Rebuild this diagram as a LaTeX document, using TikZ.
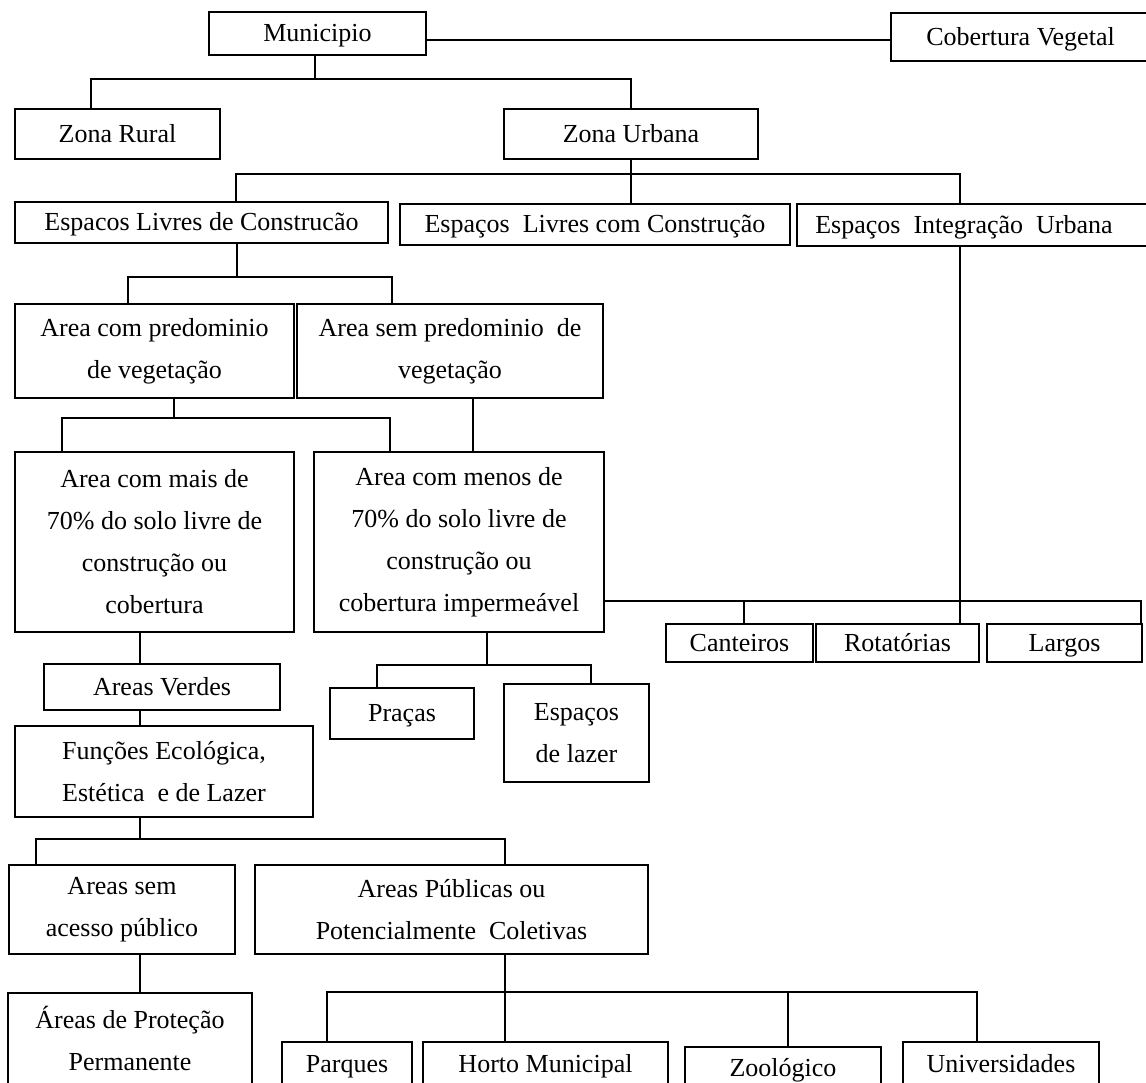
\documentclass[tikz,border=0pt]{standalone}
\usepackage{fontspec}
\setmainfont{Liberation Serif}
\tikzset{
  bx/.style={draw=black, line width=1.4pt, inner sep=0pt, align=center, text=black,
    font=\fontsize{26}{42}\selectfont},
  one/.style={text height=20pt, text depth=4pt},
  ln/.style={draw=black, line width=1.4pt}
}
\newcommand{\mkbox}[7][]{\node[bx,#1, minimum width={(#5-#3)*1pt}, minimum height={(#6-#4)*1pt}] (#2) at ({(#3+#5)/2},{(#4+#6)/2}) {#7};}
\begin{document}
\begin{tikzpicture}[x=1pt,y=-1pt]
\useasboundingbox (0,0) rectangle (1146,1082);
\fill[white] (0,0) rectangle (1146,1082);
\clip (0,0) rectangle (1146,1082);
% boxes
\mkbox[one]{mun}{209}{12}{426}{55}{Municipio}
\mkbox[one]{cob}{891}{13}{1150}{61}{Cobertura Vegetal}
\mkbox[one]{rural}{15}{109}{220}{159}{Zona Rural}
\mkbox[one]{urb}{504}{109}{758}{159}{Zona Urbana}
\mkbox[one]{elc}{15}{202}{388}{243}{Espacos Livres de Construcão}
\mkbox[one]{elcc}{400}{204}{790}{245}{Espaços~ Livres com Construção}
\mkbox[one]{eiu}{797}{204}{1150}{246}{Espaços~ Integração~ Urbana\hspace*{19pt}}
\mkbox{acp}{15}{304}{294}{398}{Area com predominio\\de vegetação}
\mkbox{asp}{297}{304}{603}{398}{Area sem predominio~ de\\vegetação}
\mkbox{amais}{15}{452}{294}{632}{Area com mais de\\70\% do solo livre de\\construção ou\\cobertura}
\mkbox{amenos}{314}{452}{604}{632}{Area com menos de\\70\% do solo livre de\\construção ou\\cobertura impermeável}
\mkbox[one]{cant}{666}{624}{813}{662}{Canteiros}
\mkbox[one]{rot}{816}{624}{979}{662}{Rotatórias}
\mkbox[one]{largos}{987}{624}{1142}{662}{Largos}
\mkbox[one]{averdes}{44}{664}{280}{710}{Areas Verdes}
\mkbox{func}{15}{726}{313}{817}{Funções Ecológica,\\Estética~ e de Lazer}
\mkbox[one]{pracas}{330}{688}{474}{739}{Praças}
\mkbox{lazer}{504}{684}{649}{782}{Espaços\\de lazer}
\mkbox{asem}{9}{865}{235}{954}{Areas sem\\acesso público}
\mkbox{apub}{255}{865}{648}{954}{Areas Públicas ou\\Potencialmente~ Coletivas}
\mkbox{app}{8}{993}{252}{1084}{Áreas de Proteção\\Permanente}
\mkbox[one]{parq}{282}{1042}{412}{1086}{Parques}
\mkbox[one]{horto}{423}{1042}{668}{1086}{Horto Municipal}
\mkbox[one]{zoo}{685}{1047}{881}{1090}{Zoológico}
\mkbox[one]{univ}{903}{1042}{1099}{1086}{Universidades}
% connectors
\draw[ln] (mun.east |- 0,40) -- (cob.west |- 0,40);
\draw[ln] (mun.south -| 315,0) -- (315,79);
\draw[ln] (rural.north -| 91,0) -- (91,79) -- (urb.north |- 0,79) -- (urb.north);
\draw[ln] (urb.south) -- (elcc.north -| urb.south);
\draw[ln] (elc.north -| 236,0) -- (236,174) -- (960,174) -- (eiu.north -| 960,0);
\draw[ln] (elc.south -| 237,0) -- (237,277);
\draw[ln] (acp.north -| 128,0) -- (128,277) -- (392,277) -- (asp.north -| 392,0);
\draw[ln] (acp.south -| 174,0) -- (174,418);
\draw[ln] (amais.north -| 62,0) -- (62,418) -- (390,418) -- (amenos.north -| 390,0);
\draw[ln] (asp.south -| 473,0) -- (amenos.north -| 473,0);
\draw[ln] (amenos.east |- 0,601) -- (1141,601) -- (largos.north -| 1141,0);
\draw[ln] (cant.north -| 744,0) -- (744,601);
\draw[ln] (eiu.south -| 960,0) -- (rot.north -| 960,0);
\draw[ln] (amais.south -| 140,0) -- (averdes.north -| 140,0);
\draw[ln] (averdes.south -| 140,0) -- (func.north -| 140,0);
\draw[ln] (amenos.south -| 487,0) -- (487,665);
\draw[ln] (pracas.north -| 377,0) -- (377,665) -- (591,665) -- (lazer.north -| 591,0);
\draw[ln] (func.south -| 140,0) -- (140,839);
\draw[ln] (asem.north -| 36,0) -- (36,839) -- (505,839) -- (apub.north -| 505,0);
\draw[ln] (asem.south -| 140,0) -- (app.north -| 140,0);
\draw[ln] (apub.south -| 505,0) -- (horto.north -| 505,0);
\draw[ln] (parq.north -| 327,0) -- (327,992) -- (977,992) -- (univ.north -| 977,0);
\draw[ln] (zoo.north -| 788,0) -- (788,992);
\end{tikzpicture}
\end{document}
